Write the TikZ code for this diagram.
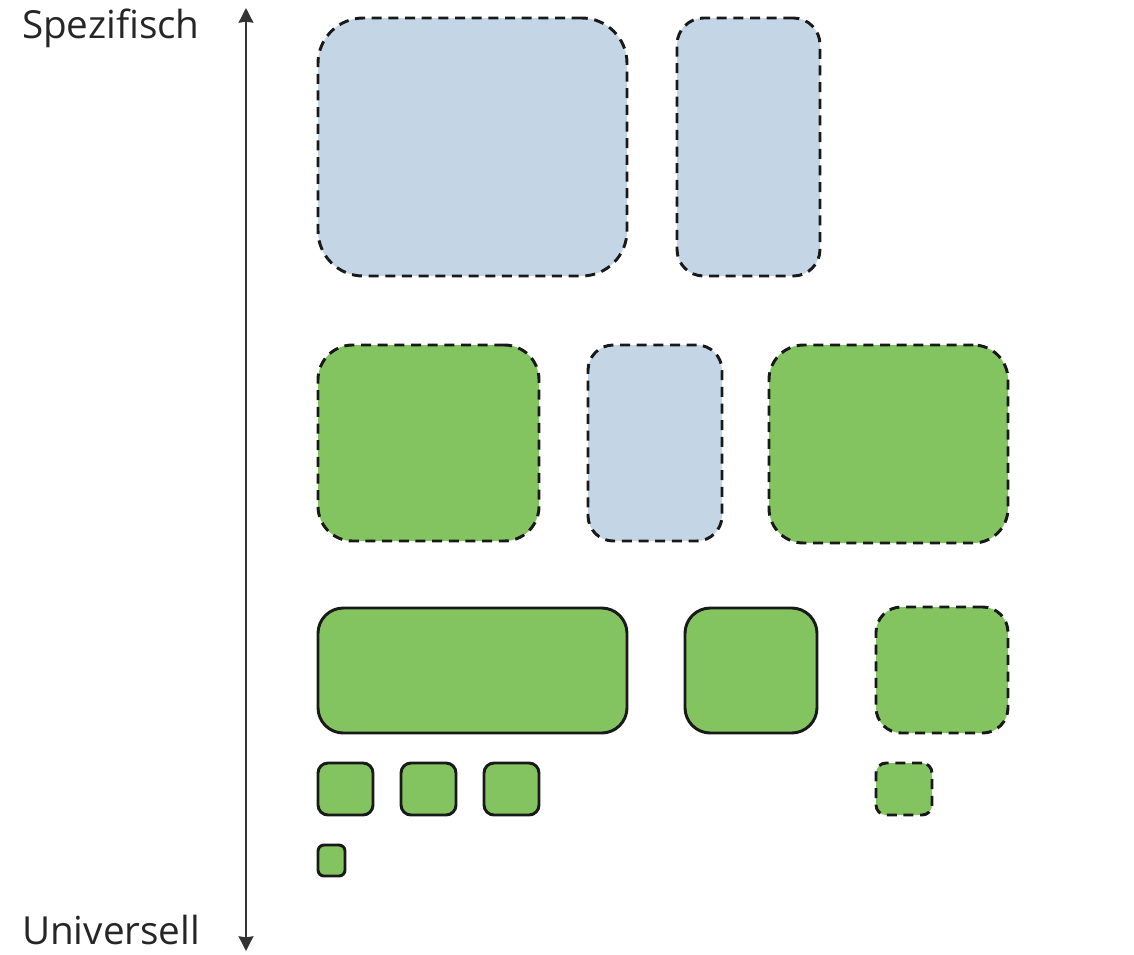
\documentclass[tikz,border=0pt]{standalone}
\usepackage{fontspec}
\setmainfont{Open Sans}
\usetikzlibrary{arrows.meta}
\definecolor{specblue}{HTML}{C4D6E6}
\definecolor{univgreen}{HTML}{83C461}
\definecolor{axisgray}{HTML}{333333}

\begin{document}
\begin{tikzpicture}[
    x=0.75pt, y=-0.75pt,
    every node/.style={inner sep=0pt, outer sep=0pt},
    box/.style={rectangle, rounded corners=#1, draw=black!90, line width=2.2pt,
                anchor=north west},
    bluebox/.style={box=#1, fill=specblue, dash pattern=on 7.5pt off 5pt},
    greenbox/.style={box=#1, fill=univgreen},
    greendash/.style={box=#1, fill=univgreen, dash pattern=on 7.5pt off 5pt},
    axislabel/.style={font=\fontsize{29}{35}\selectfont, text=black!85, anchor=base west},
    axis/.style={{Stealth[length=11pt, width=11pt, inset=0.8pt]}-{Stealth[length=11pt, width=11pt, inset=0.8pt]},
                 line width=1.7pt, color=axisgray},
]
\useasboundingbox (0,0) rectangle (1134,954);

% Axis
\node[axislabel] (spec) at (22,38) {Spezifisch};
\node[axislabel] (univ) at (22,944) {Universell};
\coordinate (top) at (246,8);
\coordinate (bottom) at (246,951);
\draw[axis] (top) -- (bottom);

% Row 1
\node[bluebox=34pt, minimum width=231.75pt, minimum height=193.5pt] (ra1) at (318,18) {};
\node[bluebox=20pt, minimum width=107.25pt, minimum height=193.5pt] (ra2) at (677,18) {};

% Row 2
\node[greendash=26pt, minimum width=165.75pt, minimum height=147pt] (rb1) at (318,345) {};
\node[bluebox=19pt, minimum width=100.5pt, minimum height=147pt] (rb2) at (588,345) {};
\node[greendash=26pt, minimum width=179.25pt, minimum height=148.5pt] (rb3) at (769,345) {};

% Row 3
\node[greenbox=19pt, minimum width=231.75pt, minimum height=93.75pt] (rc1) at (318,608) {};
\node[greenbox=19pt, minimum width=99pt, minimum height=93.75pt] (rc2) at (685,608) {};
\node[greendash=19pt, minimum width=99pt, minimum height=94.5pt] (rc3) at (876,607) {};

% Row 4
\node[greenbox=7.5pt, minimum width=41.25pt, minimum height=39pt] (rd1) at (318,763) {};
\node[greenbox=7.5pt, minimum width=41.25pt, minimum height=39pt] (rd2) at (401,763) {};
\node[greenbox=7.5pt, minimum width=41.25pt, minimum height=39pt] (rd3) at (484,763) {};
\node[greendash=7.5pt, minimum width=42pt, minimum height=39pt] (rd4) at (876,763) {};

% Row 5
\node[greenbox=4.5pt, minimum width=20.25pt, minimum height=23.25pt] (re1) at (318,845) {};

\end{tikzpicture}
\end{document}
